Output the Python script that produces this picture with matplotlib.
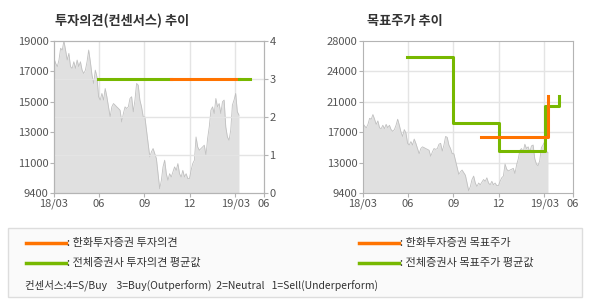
import matplotlib
matplotlib.use("Agg")
import matplotlib.pyplot as plt
from matplotlib.lines import Line2D
from matplotlib.patches import Rectangle
import numpy as np

plt.rcParams['font.family'] = ['Noto Sans CJK KR', 'DejaVu Sans']

# daily-ish closing price (18/03 .. early 19/03)
price = [17900, 17590, 17380, 17800, 18540, 18430, 19000, 18430, 17800, 18220,
         17380, 17270, 17690, 17270, 17800, 17380, 17690, 17160, 16950, 17160,
         17690, 18430, 17690, 16850, 16320, 17160, 16740, 15480, 15270, 15690,
         15270, 16000, 15480, 14840, 14210, 14840, 15050, 14950, 14840, 14740,
         14630, 13890, 14420, 14840, 14740, 14840, 15370, 15480, 14530, 15270,
         16320, 16210, 15270, 14840, 14210, 14210, 13370, 12520, 11680, 12000,
         12210, 11890, 11570, 10620, 9670, 10200, 11050, 11470, 10620, 10200,
         10620, 10410, 10730, 11050, 10830, 11260, 10620, 10410, 10830, 10410,
         10620, 10310, 10310, 10830, 11260, 11470, 12940, 12310, 12100, 12210,
         12310, 12420, 11780, 12840, 13580, 14630, 14840, 14420, 15370, 14840,
         15050, 14420, 15160, 15270, 13580, 12940, 12730, 13370, 14950, 15270,
         15690, 14530, 14320]
price_start, price_end = 0.0, 12.2   # months since 18/03

# consensus opinion (1..4)
opin_green_x = [2.9, 7.74]
opin_green_y = [3, 3]
opin_orange_x = [7.74, 12.18]
opin_orange_y = [3, 3]
opin_green2_x = [12.18, 12.95]
opin_green2_y = [3, 3]

# target price steps
tp_avg_x = [2.9, 5.96, 9.0, 11.98, 12.92]
tp_avg_y = [26000, 18000, 14600, 20100, 21300]
tp_hw_x = [7.76, 12.18]
tp_hw_y = [16200, 21300]

x_ticks = [0, 2.95, 5.95, 8.95, 11.95, 13.85]
x_labels = ['18/03', '06', '09', '12', '19/03', '06']
left_labels = ['9400', '11000', '13000', '15000', '17000', '19000']
right_labels = ['9400', '13000', '17000', '21000', '24000', '28000']
opin_ticks = [0, 1, 2, 3, 4]

ORANGE = '#ff7300'
GREEN = '#77b800'
GRID = '#e4e4e4'
SPINE = '#b4b4b4'
TXT = '#555555'

fig = plt.figure(figsize=(5.9, 3.0), dpi=100)
fig.patch.set_facecolor('white')

px = np.linspace(price_start, price_end, len(price))


def base_axes(rect, ymin, ymax, labels):
    ax = fig.add_axes(rect)
    ax.set_xlim(0, 13.85)
    ax.set_ylim(ymin, ymax)
    ax.set_xticks(x_ticks)
    ax.set_xticklabels(x_labels)
    ax.set_yticks(np.linspace(ymin, ymax, len(labels)))
    ax.set_yticklabels(labels)
    for s in ax.spines.values():
        s.set_color(SPINE)
    ax.tick_params(colors=SPINE, labelcolor=TXT, labelsize=8, length=3, pad=1)
    for xt in x_ticks[1:-1]:
        ax.axvline(xt, color=GRID, lw=1, zorder=0)
    ax.fill_between(px, ymin, price, color='#e0e0e0', lw=0, zorder=1)
    ax.plot(px, price, color='#c0c0c0', lw=0.6, zorder=2)
    return ax


# left: opinion chart
ax1 = base_axes([54/590, 107/300, 210/590, 152/300], 9400, 19000, left_labels)
ax1b = ax1.twinx()
ax1b.set_ylim(0, 4)
ax1b.set_yticks(opin_ticks)
for s in ax1b.spines.values():
    s.set_color(SPINE)
ax1b.tick_params(colors=SPINE, labelcolor=TXT, labelsize=8, length=3, pad=1)
for yt in opin_ticks[1:-1]:
    ax1b.axhline(yt, color=GRID, lw=1, zorder=0)
ax1.set_zorder(0)
ax1b.set_zorder(1)
ax1b.patch.set_visible(False)
ax1b.plot(opin_green_x, opin_green_y, color=GREEN, lw=2.2)
ax1b.plot(opin_orange_x, opin_orange_y, color=ORANGE, lw=2.2)
ax1b.plot(opin_green2_x, opin_green2_y, color=GREEN, lw=2.2)
fig.text(55/590, 1 - 21/300, '투자의견(컨센서스) 추이', fontsize=9.5, fontweight='bold',
         color='#333333', va='center')

# right: target price chart
ax2 = base_axes([363/590, 107/300, 210/590, 152/300], 9400, 28000, right_labels)
for yt in np.linspace(9400, 28000, 6)[1:-1]:
    ax2.axhline(yt, color=GRID, lw=1, zorder=0)
ax2.plot(tp_avg_x, tp_avg_y, color=GREEN, lw=2.2, drawstyle='steps-post', zorder=3)
ax2.plot(tp_hw_x, tp_hw_y, color=ORANGE, lw=2.2, drawstyle='steps-post', zorder=3)
fig.text(367/590, 1 - 21/300, '목표주가 추이', fontsize=9.5, fontweight='bold',
         color='#333333', va='center')

# legend box
fig.add_artist(Rectangle((8/590, 3/300), 574/590, 69/300, transform=fig.transFigure,
                         facecolor='#fafafa', edgecolor='#dddddd', lw=1))
legend_items = [(26, 243, ORANGE, ': 한화투자증권 투자의견'),
                (26, 263, GREEN, ': 전체증권사 투자의견 평균값'),
                (359, 243, ORANGE, ': 한화투자증권 목표주가'),
                (359, 263, GREEN, ': 전체증권사 목표주가 평균값')]
for x0, y0, c, label in legend_items:
    fig.add_artist(Line2D([x0/590, (x0 + 40)/590], [1 - y0/300, 1 - y0/300],
                          transform=fig.transFigure, color=c, lw=2.5))
    fig.text((x0 + 41)/590, 1 - y0/300, label, fontsize=8, color='#333333', va='center')
fig.text(25/590, 1 - 285/300,
         '컨센서스:4=S/Buy    3=Buy(Outperform)  2=Neutral   1=Sell(Underperform)',
         fontsize=7.5, color='#333333', va='center')

fig.savefig('out.png', dpi=100)
